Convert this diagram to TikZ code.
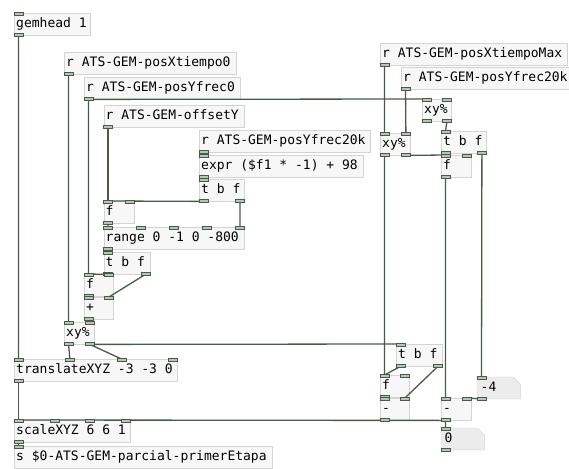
\documentclass[tikz,border=0pt]{standalone}
\usepackage{fontspec}
\newfontfamily\pdfont{DejaVu Sans Mono}
\usetikzlibrary{calc}
\pgfdeclarelayer{bg}
\pgfdeclarelayer{fg}
\pgfsetlayers{bg,main,fg}
\definecolor{wirecol}{RGB}{74,90,74}
\definecolor{boxline}{RGB}{212,212,212}
\definecolor{boxfill}{RGB}{247,247,247}
\definecolor{numfill}{RGB}{236,236,236}
\definecolor{portfill}{RGB}{185,196,185}
\newcommand\pdspace{\spaceskip=7.83pt\relax\xspaceskip=7.83pt\relax}
\newcommand\pdports[3]{%
  \coordinate (#1-tl) at ([xshift=4.5pt]#1.north west);
  \coordinate (#1-tr) at ([xshift=-4.5pt]#1.north east);
  \coordinate (#1-bl) at ([xshift=4.5pt]#1.south west);
  \coordinate (#1-br) at ([xshift=-4.5pt]#1.south east);
  \ifnum#2>0
    \pgfmathtruncatemacro\pdlast{#2-1}%
    \foreach \k in {0,...,\pdlast}{%
      \pgfmathsetmacro\pdfrac{\k/max(#2-1,1)}%
      \coordinate (#1-i\k) at ($(#1-tl)!\pdfrac!(#1-tr)$);
      \begin{pgfonlayer}{fg}\draw[port] (#1-i\k) ++(-4.5,-1) rectangle ++(9,3);\end{pgfonlayer}
    }%
  \fi
  \ifnum#3>0
    \pgfmathtruncatemacro\pdlast{#3-1}%
    \foreach \k in {0,...,\pdlast}{%
      \pgfmathsetmacro\pdfrac{\k/max(#3-1,1)}%
      \coordinate (#1-o\k) at ($(#1-bl)!\pdfrac!(#1-br)$);
      \begin{pgfonlayer}{fg}\draw[port] (#1-o\k) ++(-4.5,-2) rectangle ++(9,3);\end{pgfonlayer}
    }%
  \fi
}
\newcommand\pdnumframe[1]{%
  \begin{pgfonlayer}{bg}
    \draw[draw=boxline,fill=numfill] (#1.north west) -- ([xshift=-7pt]#1.north east)
      -- ([yshift=-7pt]#1.north east) -- (#1.south east) -- (#1.south west) -- cycle;
  \end{pgfonlayer}
}
\begin{document}
\begin{tikzpicture}[x=1pt,y=-1pt,
    obj/.style={draw=boxline,fill=boxfill,anchor=north west,
      font=\pdfont\fontsize{13}{15}\selectfont,execute at begin node=\pdspace,
      inner xsep=2pt,inner ysep=0pt,minimum height=22pt,text height=9.5pt,text depth=2.5pt,
      text width=#1,align=left},
    num/.style={obj=#1,draw=none,fill=none,inner xsep=3.5pt,minimum height=21.5pt},
    port/.style={draw=wirecol,fill=portfill,line width=0.6pt},
    wire/.style={draw=wirecol,line width=1.3pt}]
    \begin{pgfonlayer}{bg}
        \fill[white] (0,0) rectangle (569,468);
    \end{pgfonlayer}
    \useasboundingbox (0,0) rectangle (569,468);
    % left chain
    \node[obj=72pt]    (gem)   at (14,13)    {gemhead 1};
    \node[obj=168pt]   (rxt)   at (64,52)    {r ATS-GEM-posXtiempo0};
    \node[obj=152pt]   (ryf)   at (84,77)    {r ATS-GEM-posYfrec0};
    \node[obj=136pt]   (roff)  at (103.5,105) {r ATS-GEM-offsetY};
    \node[obj=167pt]   (ryk)   at (199,130)  {r ATS-GEM-posYfrec20k};
    \node[obj=160pt]   (expr)  at (199,155)  {expr (\$f1 * -1) + 98};
    \node[obj=41pt]    (tbfa)  at (199,179)  {t b f};
    \node[obj=26pt]    (fa)    at (103.5,201) {f};
    \node[obj=136.5pt] (range) at (103.5,227) {range 0 -1 0 -800};
    \node[obj=42pt]    (tbfb)  at (103.5,252) {t b f};
    \node[obj=25pt]    (fb)    at (84,274)   {f};
    \node[obj=25pt]    (plus)  at (84,297)   {+};
    \node[obj=26pt]    (xya)   at (64,322)   {xy\%};
    \node[obj=159pt]   (trans) at (14,359)   {translateXYZ -3 -3 0};
    \node[obj=112pt]   (scale) at (14,420)   {scaleXYZ 6 6 1};
    \node[obj=254pt]   (send)  at (14,446)   {s \$0-ATS-GEM-parcial-primerEtapa};
    % right chain
    \node[obj=183pt]   (rxm)   at (380,43)   {r ATS-GEM-posXtiempoMax};
    \node[obj=168pt]   (ryk2)  at (401,67)   {r ATS-GEM-posYfrec20k};
    \node[obj=25pt]    (xyb)   at (422,99)   {xy\%};
    \node[obj=26pt]    (xyc)   at (380,133)  {xy\%};
    \node[obj=41pt]    (tbfc)  at (441,131)  {t b f};
    \node[obj=26pt]    (fc)    at (441,155)  {f};
    \node[obj=42pt]    (tbfd)  at (396,344)  {t b f};
    \node[obj=25pt]    (fd)    at (380,375)  {f};
    \node[obj=25pt]    (suba)  at (380,398)  {-};
    \node[obj=26pt]    (subb)  at (441,398)  {-};
    \node[num=36pt]    (numa)  at (477,377)  {-4};
    \node[num=36pt]    (numb)  at (441,428)  {0};
    \pdnumframe{numa}
    \pdnumframe{numb}
    \pdports{gem}{1}{1}   \pdports{rxt}{0}{1}   \pdports{ryf}{0}{1}   \pdports{roff}{0}{1}
    \pdports{ryk}{0}{1}   \pdports{expr}{1}{1}  \pdports{tbfa}{1}{2}  \pdports{fa}{2}{1}
    \pdports{range}{5}{1} \pdports{tbfb}{1}{2}  \pdports{fb}{2}{1}    \pdports{plus}{2}{1}
    \pdports{xya}{2}{2}   \pdports{trans}{4}{1} \pdports{scale}{4}{1} \pdports{send}{1}{0}
    \pdports{rxm}{0}{1}   \pdports{ryk2}{0}{1}  \pdports{xyb}{2}{2}   \pdports{xyc}{2}{2}
    \pdports{tbfc}{1}{2}  \pdports{fc}{2}{1}    \pdports{tbfd}{1}{2}  \pdports{fd}{2}{1}
    \pdports{suba}{2}{1}  \pdports{subb}{2}{1}  \pdports{numa}{1}{1}  \pdports{numb}{1}{1}
    % wires
    \draw[wire] (gem-o0)--(trans-i0) (rxt-o0)--(xya-i0) (ryf-o0)--(fb-i0) (ryf-o0)--(xyb-i0);
    \draw[wire] (roff-o0)--(fa-i0) (ryk-o0)--(expr-i0) (expr-o0)--(tbfa-i0);
    \draw[wire] (tbfa-o0)--(fa-i0) (tbfa-o1)--(range-i4) (fa-o0)--(range-i0) (range-o0)--(tbfb-i0);
    \draw[wire] (tbfb-o0)--(fb-i0) (tbfb-o1)--(plus-i1) (fb-o0)--(plus-i0) (plus-o0)--(xya-i1);
    \draw[wire] (xya-o0)--(trans-i1) (xya-o1)--(trans-i2) (xya-o1)--(tbfd-i0);
    \draw[wire] (trans-o0)--(scale-i0) (scale-o0)--(send-i0);
    \draw[wire] (rxm-o0)--(xyc-i0) (ryk2-o0)--(xyc-i1) (xyb-o1)--(tbfc-i0);
    \draw[wire] (xyc-o0)--(fd-i0) (xyc-o1)--(fc-i0) (tbfc-o0)--(fc-i0) (tbfc-o1)--(numa-i0);
    \draw[wire] (fc-o0)--(subb-i0) (numa-o0)--(subb-i1) (subb-o0)--(numb-i0);
    \draw[wire] (tbfd-o0)--(fd-i0) (tbfd-o1)--(suba-i1) (fd-o0)--(suba-i0);
    \draw[wire] (subb-o0)--(scale-i0) (suba-o0)--(scale-i0);
\end{tikzpicture}
\end{document}
